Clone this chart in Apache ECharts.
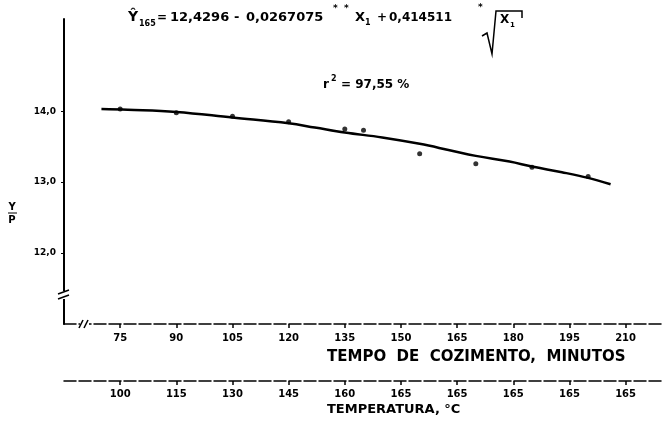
<!DOCTYPE html>
<html><head><meta charset="utf-8">
<script src="https://cdn.jsdelivr.net/npm/echarts@6/dist/echarts.min.js"></script>
<style>html,body{margin:0;padding:0;background:#fff}#c{width:663px;height:423px}</style>
</head><body><div id="c"></div>
<script>
// Tick values / labels
const timeTicks = [75, 90, 105, 120, 135, 150, 165, 180, 195, 210];
const tempLabels = ['100', '115', '130', '145', '160', '165', '165', '165', '165', '165'];
const yTicks = [12, 13, 14];
// Observed points (tempo de cozimento, rendimento)
const obsTime = [75, 90, 105, 120, 135, 140, 155, 170, 185, 200];
const obsYield = [14.03, 13.98, 13.93, 13.85, 13.75, 13.73, 13.40, 13.26, 13.21, 13.08];
// Fitted curve
const fitTime = [70, 77, 90, 105, 120, 127, 135, 145, 155, 163, 170, 179, 185, 193, 200, 206];
const fitYield = [14.03, 14.02, 13.99, 13.91, 13.83, 13.77, 13.70, 13.63, 13.54, 13.45, 13.37, 13.29, 13.22, 13.14, 13.06, 12.97];

const FF = '"DejaVu Sans", "Liberation Sans", Arial, sans-serif';
function txt(x, y, s, size, align) {
  return {type: 'text', x: x, y: y, z: 10, style: {text: s, fontSize: size, fontWeight: 'bold', fontFamily: FF, fill: '#000', align: align || 'left', verticalAlign: 'middle'}};
}
function pl(points, w) {
  return {type: 'polyline', z: 10, shape: {points: points}, style: {stroke: '#000', lineWidth: w || 1.5, fill: null}};
}
function wrect(x, y, w, h) {
  return {type: 'rect', z: 9, shape: {x: x, y: y, width: w, height: h}, style: {fill: '#fff'}};
}

const chart = echarts.init(document.getElementById('c'));
const axisLineStyle = {color: '#000', width: 1.5, type: [12, 3]};
chart.setOption({
  animation: false,
  backgroundColor: '#fff',
  grid: {left: 64, right: 0, top: 19, bottom: 99},
  xAxis: [{
    type: 'value', min: 60, max: 220, position: 'bottom',
    axisLine: {lineStyle: axisLineStyle},
    axisTick: {show: true, customValues: timeTicks, length: 4, lineStyle: {color: '#000', width: 1.5}},
    axisLabel: {customValues: timeTicks, fontSize: 10, fontWeight: 'bold', fontFamily: FF, color: '#000', margin: 9},
    splitLine: {show: false}
  }, {
    type: 'value', min: 60, max: 220, position: 'bottom', offset: 57,
    axisLine: {lineStyle: axisLineStyle},
    axisTick: {show: true, customValues: timeTicks, length: 4, lineStyle: {color: '#000', width: 1.5}},
    axisLabel: {customValues: timeTicks, fontSize: 10, fontWeight: 'bold', fontFamily: FF, color: '#000', margin: 8,
      formatter: function (v) { const i = timeTicks.indexOf(v); return i >= 0 ? tempLabels[i] : ''; }},
    splitLine: {show: false}
  }],
  yAxis: {
    type: 'value', min: 11, max: 15.3,
    axisLine: {show: true, lineStyle: {color: '#000', width: 2}},
    axisTick: {show: true, customValues: yTicks, length: 3, lineStyle: {color: '#000', width: 1}},
    axisLabel: {customValues: yTicks, fontSize: 9, fontWeight: 'bold', fontFamily: FF, color: '#000', margin: 8,
      formatter: function (v) { return v.toFixed(1).replace('.', ','); }},
    splitLine: {show: false}
  },
  series: [{
    type: 'line', xAxisIndex: 0, smooth: 0.4, symbol: 'none',
    lineStyle: {color: '#000', width: 2.5},
    data: fitTime.map(function (t, i) { return [t, fitYield[i]]; })
  }, {
    type: 'scatter', xAxisIndex: 0, symbolSize: 5,
    itemStyle: {color: '#000'},
    data: obsTime.map(function (t, i) { return [t, obsYield[i]]; })
  }],
  graphic: [
    // regression equation
    txt(128, 17, 'Ŷ', 14),
    txt(139, 24, '165', 8),
    txt(157, 18, '=', 12),
    txt(170, 18, '12,4296', 13),
    txt(234, 18, '-', 13),
    txt(246, 18, '0,0267075', 13),
    txt(333, 9, '*', 9),
    txt(344, 9, '*', 9),
    txt(355, 18, 'X', 13),
    txt(365, 23, '1', 8),
    txt(377, 18, '+', 12),
    txt(389, 18, '0,414511', 12),
    txt(478, 8, '*', 9),
    pl([[482, 36], [487, 33], [492, 54], [496, 11], [522, 11], [522, 18]], 1.5),
    txt(500, 20, 'X', 12),
    txt(510, 25, '1', 7),
    // coefficient of determination
    txt(323, 85, 'r', 12),
    txt(331, 79, '2', 8),
    txt(341, 85, '= 97,55 %', 12),
    // axis titles
    txt(327, 357, 'TEMPO  DE  COZIMENTO,  MINUTOS', 15),
    txt(327, 410, 'TEMPERATURA, °C', 13),
    txt(12, 207, 'Y', 10, 'center'),
    pl([[8, 213], [17, 213]], 1),
    txt(12, 220, 'P', 10, 'center'),
    // axis breaks
    wrect(58, 291, 12, 8),
    pl([[58, 294], [69, 290]], 1.5),
    pl([[58, 299], [69, 295]], 1.5),
    wrect(80, 319, 9, 10),
    pl([[79, 328], [83, 320]], 1.5),
    pl([[84, 328], [88, 320]], 1.5)
  ]
});
</script></body></html>
